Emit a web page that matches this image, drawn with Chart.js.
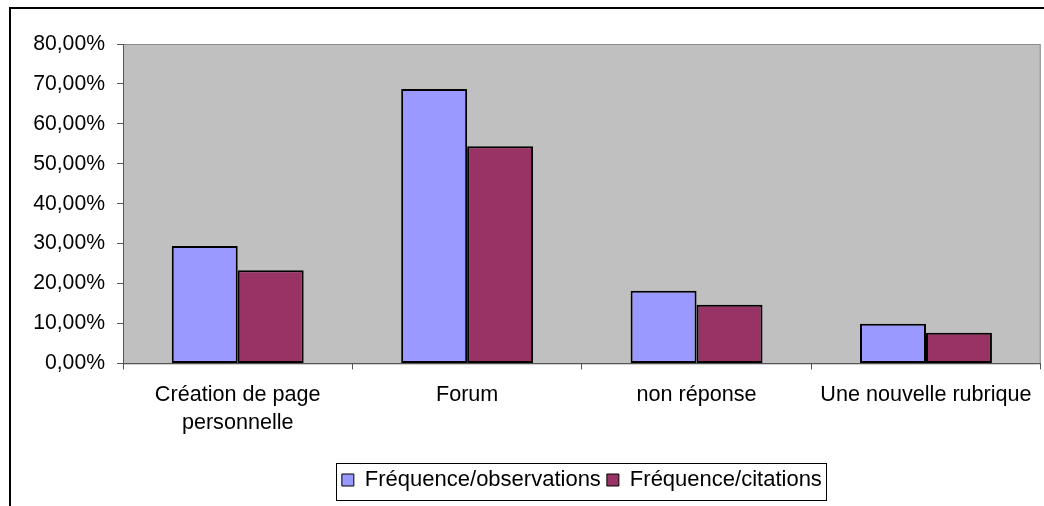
<!DOCTYPE html>
<html>
<head>
<meta charset="utf-8">
<script src="https://cdn.jsdelivr.net/npm/chart.js@4"></script>
<style>
  html, body { margin: 0; padding: 0; background: #fff; overflow: hidden; }
  #wrap { position: relative; width: 1044px; height: 506px; }
  #frame {
    position: absolute; left: 9px; top: 7px; width: 1100px; height: 600px;
    border-left: 2px solid #000; border-top: 2px solid #000; pointer-events: none;
  }
</style>
</head>
<body>
<div id="wrap">
  <canvas id="chart" width="1044" height="506"></canvas>
  <div id="frame"></div>
</div>
<script>
const categories = [["Création de page", "personnelle"], "Forum", "non réponse", "Une nouvelle rubrique"]
const observations = [29.4, 68.7, 18.2, 9.9]
const citations = [23.3, 54.4, 14.7, 7.7]
const yTicks = [0, 10, 20, 30, 40, 50, 60, 70, 80]

const FONT = "'Liberation Sans', Arial, sans-serif"

// Grey plot background and border, like the old spreadsheet chart
const plotArea = {
  id: "plotArea",
  beforeDraw(chart) {
    const { ctx, chartArea: a } = chart
    ctx.save()
    ctx.fillStyle = "#c0c0c0"
    ctx.fillRect(a.left, a.top, a.right - a.left, a.bottom - a.top)
    ctx.strokeStyle = "#8c8c8c"
    ctx.lineWidth = 1
    ctx.strokeRect(a.left + 0.5, a.top + 0.5, a.right - a.left - 1, a.bottom - a.top)
    ctx.restore()
  }
}

// Box round the legend items
const legendBox = {
  id: "legendBox",
  afterDraw(chart) {
    const lg = chart.legend
    if (!lg || !lg.legendHitBoxes.length) return
    const boxes = lg.legendHitBoxes
    const left = Math.min(...boxes.map(b => b.left)) - 6
    const right = Math.max(...boxes.map(b => b.left + b.width)) + 4
    const { ctx } = chart
    ctx.save()
    ctx.strokeStyle = "#000"
    ctx.lineWidth = 1
    ctx.strokeRect(Math.round(left) + 0.5, Math.round(lg.top) + 0.5, Math.round(right - left), Math.round(lg.height) - 1)
    ctx.restore()
  }
}

new Chart(document.getElementById("chart"), {
  type: "bar",
  data: {
    labels: categories,
    datasets: [
      {
        label: "Fréquence/observations",
        data: observations,
        backgroundColor: "#9999ff",
        borderColor: "#000",
        borderWidth: 2,
        borderSkipped: false,
        categoryPercentage: 0.575,
        barPercentage: 1
      },
      {
        label: "Fréquence/citations",
        data: citations,
        backgroundColor: "#993366",
        borderColor: "#000",
        borderWidth: 2,
        borderSkipped: false,
        categoryPercentage: 0.575,
        barPercentage: 1
      }
    ]
  },
  options: {
    responsive: false,
    animation: false,
    layout: { padding: { left: 10, right: 3, top: 44, bottom: 5 } },
    plugins: {
      tooltip: { enabled: false },
      legend: {
        position: "bottom",
        fullSize: false,
        labels: {
          color: "#000",
          font: { family: FONT, size: 22 },
          boxWidth: 12,
          boxHeight: 12,
          padding: 6,
          generateLabels(chart) {
            return chart.data.datasets.map((ds, i) => ({
              text: ds.label,
              fillStyle: ds.backgroundColor,
              strokeStyle: "#000",
              lineWidth: 1,
              datasetIndex: i
            }))
          }
        }
      }
    },
    scales: {
      x: {
        afterFit(scale) { scale.height = 99.6 },
        grid: {
          offset: true,
          drawOnChartArea: false,
          drawTicks: true,
          tickLength: 6,
          color: "#555"
        },
        border: { color: "#555", width: 1 },
        ticks: {
          color: "#000",
          font: { family: FONT, size: 21.6, lineHeight: 1.3 },
          padding: 12,
          maxRotation: 0,
          autoSkip: false
        }
      },
      y: {
        min: 0,
        max: 80,
        afterFit(scale) { scale.width = 113 },
        afterBuildTicks(scale) { scale.ticks = yTicks.map(v => ({ value: v })) },
        grid: {
          drawOnChartArea: false,
          drawTicks: true,
          tickLength: 6,
          color: "#555"
        },
        border: { color: "#555", width: 1 },
        ticks: {
          color: "#000",
          font: { family: FONT, size: 21.2 },
          padding: 12,
          callback: v => v.toFixed(2).replace(".", ",") + "%"
        }
      }
    }
  },
  plugins: [plotArea, legendBox]
})
</script>
</body>
</html>
